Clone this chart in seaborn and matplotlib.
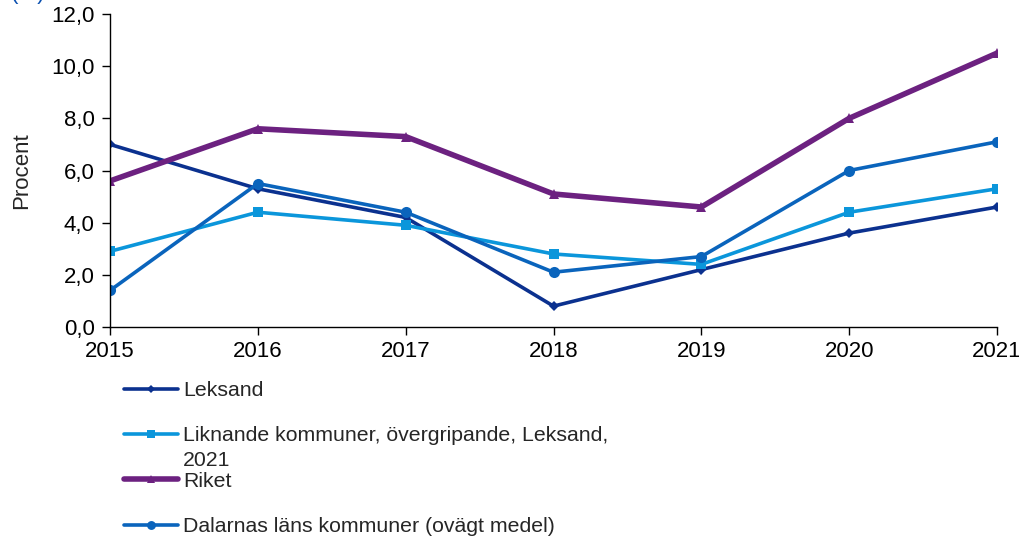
import pandas as pd
import matplotlib.pyplot as plt
import matplotlib.ticker as mticker
import seaborn as sns

years = [2015, 2016, 2017, 2018, 2019, 2020, 2021]
leksand = [7.0, 5.3, 4.2, 0.8, 2.2, 3.6, 4.6]
liknande = [2.9, 4.4, 3.9, 2.8, 2.4, 4.4, 5.3]
riket = [5.6, 7.6, 7.3, 5.1, 4.6, 8.0, 10.5]
dalarna = [1.4, 5.5, 4.4, 2.1, 2.7, 6.0, 7.1]

series_names = ['Leksand',
                'Liknande kommuner, övergripande, Leksand,',
                'Riket',
                'Dalarnas läns kommuner (ovägt medel)']
extra_label_line = '2021'

FS = 16
LEG_FS = 15.3


def make_chart():
    sns.set_style('ticks')
    plt.rcParams['font.family'] = ['Liberation Sans', 'DejaVu Sans']

    df = pd.DataFrame({
        'year': years * 4,
        'value': leksand + liknande + riket + dalarna,
        'series': [n for n in series_names for _ in years],
    })

    styles = {
        series_names[0]: dict(color='#0b318f', marker='D', markersize=5, linewidth=2.6),
        series_names[1]: dict(color='#0b96db', marker='s', markersize=7, linewidth=2.6),
        series_names[2]: dict(color='#6c2180', marker='^', markersize=7, linewidth=4.0),
        series_names[3]: dict(color='#0a64bc', marker='o', markersize=8, linewidth=2.6),
    }

    fig = plt.figure(figsize=(10.2, 5.39), dpi=100)
    ax = fig.add_axes([110 / 1020, 1 - 327 / 539, 887 / 1020, 313 / 539])

    for name in series_names:
        sub = df[df['series'] == name]
        st = styles[name]
        sns.lineplot(data=sub, x='year', y='value', ax=ax, label=name,
                     color=st['color'], linewidth=st['linewidth'],
                     marker=st['marker'], markersize=st['markersize'],
                     markeredgecolor=st['color'], markeredgewidth=0)

    ax.set_xlim(2015, 2021)
    ax.set_ylim(0, 12)
    ax.set_xticks(years)
    ax.set_yticks([0, 2, 4, 6, 8, 10, 12])
    ax.yaxis.set_major_formatter(mticker.FuncFormatter(lambda v, p: f'{v:.1f}'.replace('.', ',')))
    ax.set_xlabel('')
    ax.set_ylabel('Procent', fontsize=FS, labelpad=14)
    ax.tick_params(axis='both', labelsize=FS, direction='out', length=6, width=1, colors='black')
    ax.tick_params(axis='y', pad=5)
    ax.tick_params(axis='x', pad=4)
    sns.despine(ax=ax)
    for s in ['left', 'bottom']:
        ax.spines[s].set_color('black')
        ax.spines[s].set_linewidth(1)

    ax.legend(loc='upper left', bbox_to_anchor=(124 / 1020, 1 - 381 / 539),
              bbox_transform=fig.transFigure, frameon=False, fontsize=LEG_FS,
              handlelength=2.55, handletextpad=0.23, labelspacing=1.24,
              borderpad=0, borderaxespad=0, markerscale=0.8)

    fig.text(183 / 1020, 1 - 460 / 539, extra_label_line, fontsize=LEG_FS, va='center', ha='left')
    fig.text(11 / 1020, 1 + 1 / 539, '(%)', fontsize=FS, color='#0b50b0', va='baseline', ha='left')

    fig.savefig('out.png', dpi=100)
    plt.close(fig)


if __name__ == '__main__':
    make_chart()
